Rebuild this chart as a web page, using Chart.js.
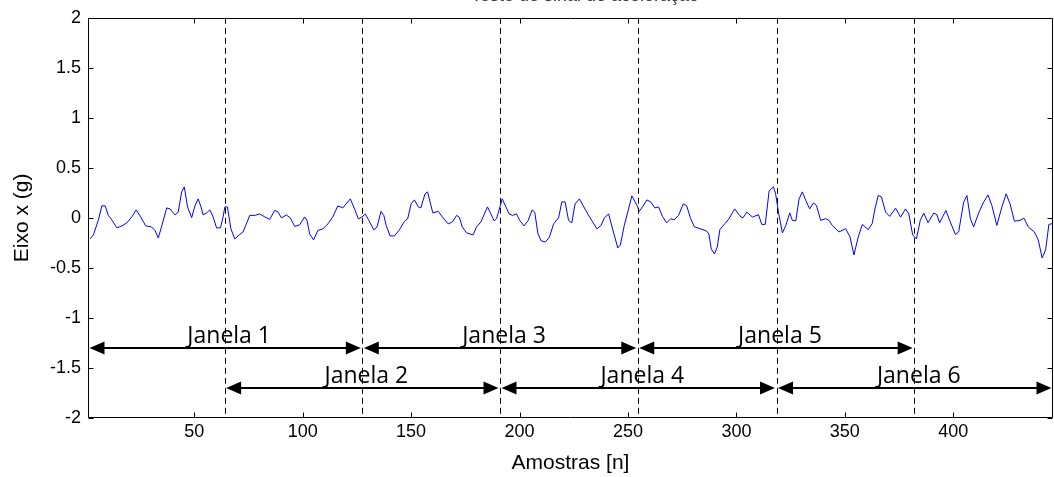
<!DOCTYPE html>
<html>
<head>
<meta charset="utf-8">
<script src="https://cdn.jsdelivr.net/npm/chart.js@4"></script>
<style>
  html, body { margin: 0; padding: 0; background: #ffffff; }
  #wrap { width: 1054px; height: 477px; }
</style>
</head>
<body>
<div id="wrap"><canvas id="c" width="1054" height="477"></canvas></div>
<script>
// ---- data ----
const chartTitle = 'Teste de sinal de aceleração';
const xAxisTitle = 'Amostras [n]';
const yAxisTitle = 'Eixo x (g)';

const sampleIdx = [
  2, 3.5, 5.8, 7.4, 8.9, 10.4, 12, 14.3, 16.6, 18.9, 21.2, 23.2, 25.3, 27.6, 30.3, 31.9, 33.4, 34.9, 37.3, 38.8,
  41.1, 42.6, 44.2, 45.4, 46.9, 48.8, 50.3, 51.8, 53.1, 54.1, 55.7, 57.2, 58.7, 60.3, 62.1, 63.3, 64.1, 65.3, 66.9, 68.7,
  70.7, 72.5, 75.6, 77.9, 80.2, 82.5, 84.8, 87.1, 88.6, 90.2, 92.5, 94.3, 96.3, 98.6, 100.9, 102, 103.2, 105, 107, 109.3,
  111.6, 113.9, 116.2, 118.5, 120, 122, 123.9, 125.7, 127.3, 128.9, 130.5, 132.8, 134.3, 136.1, 137.4, 138.5, 140.3, 142.3, 144.6, 146.9,
  148.4, 150, 151.5, 153.3, 154.5, 156.4, 157.6, 160, 162.5, 164.5, 167.1, 169.1, 171, 172.2, 173.6, 175.6, 178.6, 180.2, 182.2, 185.2,
  186.8, 188.3, 189.4, 192, 193.7, 195.2, 196.7, 198.6, 200.1, 202.1, 204, 205.8, 207, 208.5, 210, 212, 213.8, 215.7, 218, 219.5,
  221, 222.6, 224.1, 225.6, 227.6, 229.4, 231.7, 233.7, 235.7, 237.6, 239.1, 241.1, 242.9, 245.3, 246.5, 248.3, 249.8, 251.8, 254.5, 255.2,
  256.7, 258.7, 260.5, 262.4, 264.1, 265.9, 267.8, 269.7, 271.3, 273.3, 275.5, 277.1, 278.9, 280.7, 283.5, 286.2, 287.3, 288.4, 289.9, 291.2,
  292.4, 294.6, 296.6, 299.2, 302.1, 303.1, 304.8, 307.4, 310.2, 311.7, 313.3, 315.1, 317.1, 318.1, 319.4, 321.2, 322.8, 324.6, 325.8, 327.4,
  328.9, 330.4, 332, 333.8, 335.5, 336.9, 338.9, 341.2, 342.7, 344.2, 347.3, 350.4, 352.4, 354.2, 356.2, 358.1, 360.8, 362.6, 363.9, 365.4,
  366.9, 368.8, 370.7, 373.4, 375.7, 378, 379.5, 381.3, 383, 384.8, 386.4, 388.4, 391, 392.5, 393.7, 396.6, 398.6, 401, 402.5, 404.8,
  406.3, 407.9, 409.4, 411.7, 414, 416, 417.8, 420.1, 422.4, 424.4, 426.2, 428.2, 430.8, 432.6, 434.6, 437.4, 439.2, 441, 442.6, 444.1,
  445.6
];
const accelX = [
  -0.21, -0.17, -0.02, 0.12, 0.12, 0.025, -0.02, -0.10, -0.08, -0.05, 0.01, 0.08, 0.01, -0.08, -0.09, -0.125, -0.20, -0.09, 0.10, 0.09,
  0.03, 0.058, 0.26, 0.31, 0.11, 0.002, 0.12, 0.19, 0.11, 0.03, 0.05, 0.08, 0.01, -0.10, -0.10, 0.01, 0.11, 0.11, -0.11, -0.21,
  -0.17, -0.14, 0.025, 0.025, 0.04, 0.01, -0.015, 0.075, 0.06, 0.0, 0.03, 0.0, -0.085, -0.07, 0.01, -0.025, -0.16, -0.22, -0.125, -0.11,
  -0.06, 0.01, 0.12, 0.10, 0.14, 0.19, 0.09, -0.01, 0.008, 0.04, -0.025, -0.12, -0.09, 0.065, 0.025, -0.075, -0.18, -0.18, -0.12, -0.035,
  -0.01, 0.14, 0.18, 0.11, 0.10, 0.24, 0.26, 0.05, 0.065, 0.008, -0.06, -0.04, 0.025, 0.008, -0.09, -0.15, -0.17, -0.09, -0.04, 0.11,
  0.04, -0.03, -0.008, 0.19, 0.11, 0.04, 0.025, 0.04, -0.025, -0.08, -0.025, 0.08, 0.058, -0.16, -0.23, -0.24, -0.19, -0.06, 0.0, 0.16,
  0.16, -0.025, -0.05, 0.14, 0.19, 0.12, 0.03, -0.04, -0.11, -0.075, 0.0, 0.04, -0.11, -0.30, -0.27, -0.075, 0.05, 0.22, 0.11, 0.065,
  0.11, 0.18, 0.16, 0.10, 0.11, 0.016, -0.05, -0.008, -0.02, 0.025, 0.14, 0.12, -0.008, -0.09, -0.11, -0.13, -0.16, -0.31, -0.36, -0.29,
  -0.115, -0.06, -0.008, 0.09, 0.008, 0.002, 0.058, 0.008, 0.032, -0.065, -0.065, 0.27, 0.31, 0.24, 0.058, -0.15, -0.075, 0.05, -0.025, -0.03,
  0.19, 0.26, 0.175, 0.09, 0.15, 0.125, -0.025, -0.008, -0.025, -0.075, -0.14, -0.108, -0.19, -0.37, -0.19, -0.065, -0.118, -0.058, 0.09, 0.224,
  0.21, 0.058, 0.015, 0.097, 0.008, 0.09, 0.04, -0.17, -0.21, -0.025, 0.048, -0.048, 0.048, 0.032, -0.05, 0.075, -0.04, -0.165, -0.14, 0.157,
  0.224, -0.008, -0.09, 0.048, 0.157, 0.23, 0.125, -0.075, 0.108, 0.24, 0.14, -0.033, -0.025, -0.002, -0.09, -0.14, -0.22, -0.40, -0.32, -0.065,
  -0.058
];

const xTickValues = [50, 100, 150, 200, 250, 300, 350, 400];
const yTickValues = [-2, -1.5, -1, -0.5, 0, 0.5, 1, 1.5, 2];
const xRange = [1, 446];
const yRange = [-2, 2];

// windows (Janelas)
const windowLabels = ['Janela 1', 'Janela 2', 'Janela 3', 'Janela 4', 'Janela 5', 'Janela 6'];
const windowStart  = [1, 64, 127.5, 191, 254.5, 318.5];
const windowEnd    = [127.5, 191, 254.5, 318.5, 382, 446];
const windowLevel  = [-1.3, -1.7, -1.3, -1.7, -1.3, -1.7];
const dividerLines = [64, 127.5, 191, 254.5, 318.5, 382];

// ---- drawing ----
const tickFont = { family: "'Liberation Sans', Arial, sans-serif", size: 18 };
const titleFont = { family: "'Liberation Sans', Arial, sans-serif", size: 21 };

const decorPlugin = {
  id: 'decor',
  afterDatasetsDraw(chart) {
    const { ctx, chartArea: a, scales: { x, y } } = chart;
    ctx.save();
    // dashed divider lines
    ctx.strokeStyle = '#000';
    ctx.lineWidth = 1;
    ctx.setLineDash([6, 4]);
    dividerLines.forEach(v => {
      const px = Math.round(x.getPixelForValue(v)) + 0.5;
      ctx.beginPath();
      ctx.moveTo(px, a.top);
      ctx.lineTo(px, a.bottom);
      ctx.stroke();
    });
    ctx.setLineDash([]);

    // arrows
    const headL = 15, headH = 13;
    windowLabels.forEach((lab, i) => {
      const x0 = x.getPixelForValue(windowStart[i]) + 1.5;
      const x1 = x.getPixelForValue(windowEnd[i]) - 1.5;
      const py = Math.round(y.getPixelForValue(windowLevel[i]));
      ctx.strokeStyle = '#000';
      ctx.lineWidth = 2;
      ctx.beginPath();
      ctx.moveTo(x0 + headL - 2, py);
      ctx.lineTo(x1 - headL + 2, py);
      ctx.stroke();
      ctx.fillStyle = '#000';
      ctx.beginPath();
      ctx.moveTo(x0, py);
      ctx.lineTo(x0 + headL, py - headH / 2);
      ctx.lineTo(x0 + headL, py + headH / 2);
      ctx.closePath();
      ctx.fill();
      ctx.beginPath();
      ctx.moveTo(x1, py);
      ctx.lineTo(x1 - headL, py - headH / 2);
      ctx.lineTo(x1 - headL, py + headH / 2);
      ctx.closePath();
      ctx.fill();
      ctx.font = "23px 'Open Sans', 'Noto Sans', sans-serif";
      ctx.textAlign = 'center';
      ctx.textBaseline = 'alphabetic';
      ctx.fillText(lab, (x0 + x1) / 2 + 4, py - 5);
    });

    // box and inward ticks
    ctx.strokeStyle = '#000';
    ctx.lineWidth = 1;
    const L = Math.round(a.left) + 0.5, R = Math.round(a.right) - 0.5;
    const T = Math.round(a.top) + 0.5, B = Math.round(a.bottom) - 0.5;
    ctx.beginPath();
    ctx.rect(L, T, R - L, B - T);
    ctx.stroke();
    const tl = 5;
    ctx.beginPath();
    xTickValues.forEach(v => {
      const px = Math.round(x.getPixelForValue(v)) + 0.5;
      ctx.moveTo(px, B); ctx.lineTo(px, B - tl);
      ctx.moveTo(px, T); ctx.lineTo(px, T + tl);
    });
    yTickValues.forEach(v => {
      const py = Math.round(y.getPixelForValue(v)) + 0.5;
      ctx.moveTo(L, py); ctx.lineTo(L + tl, py);
      ctx.moveTo(R, py); ctx.lineTo(R - tl, py);
    });
    ctx.stroke();

    // title (mostly cut off at the top edge, as in the reference)
    ctx.fillStyle = '#333';
    ctx.font = "18px 'Liberation Sans', Arial, sans-serif";
    ctx.textAlign = 'center';
    ctx.textBaseline = 'alphabetic';
    ctx.fillText(chartTitle, 585, 0.5);
    ctx.restore();
  }
};

new Chart(document.getElementById('c'), {
  type: 'line',
  data: {
    datasets: [{
      data: sampleIdx.map((n, i) => ({ x: n, y: accelX[i] })),
      borderColor: '#0000ff',
      borderWidth: 1,
      pointRadius: 0,
      tension: 0,
      fill: false
    }]
  },
  options: {
    responsive: false,
    devicePixelRatio: 1,
    animation: false,
    layout: { padding: { top: 16, right: 1, left: 0, bottom: 0 } },
    plugins: { legend: { display: false }, tooltip: { enabled: false }, title: { display: false } },
    scales: {
      x: {
        type: 'linear',
        min: xRange[0], max: xRange[1],
        grid: { display: false, drawTicks: false },
        border: { display: false },
        afterBuildTicks: s => { s.ticks = xTickValues.map(v => ({ value: v })); },
        afterFit: s => { s.height = 59; },
        ticks: { font: tickFont, color: '#000', padding: 3, maxRotation: 0, autoSkip: false, callback: v => String(v) },
        title: { display: true, text: xAxisTitle, font: titleFont, color: '#000', padding: { top: 0, bottom: 1 } }
      },
      y: {
        min: yRange[0], max: yRange[1],
        grid: { display: false, drawTicks: false },
        border: { display: false },
        afterBuildTicks: s => { s.ticks = yTickValues.map(v => ({ value: v })); },
        afterFit: s => { s.width = 88; },
        ticks: { font: tickFont, color: '#000', padding: 7, autoSkip: false, callback: v => String(v) },
        title: { display: true, text: yAxisTitle, font: titleFont, color: '#000', padding: { top: 10, bottom: 0 } }
      }
    }
  },
  plugins: [decorPlugin]
});
</script>
</body>
</html>
